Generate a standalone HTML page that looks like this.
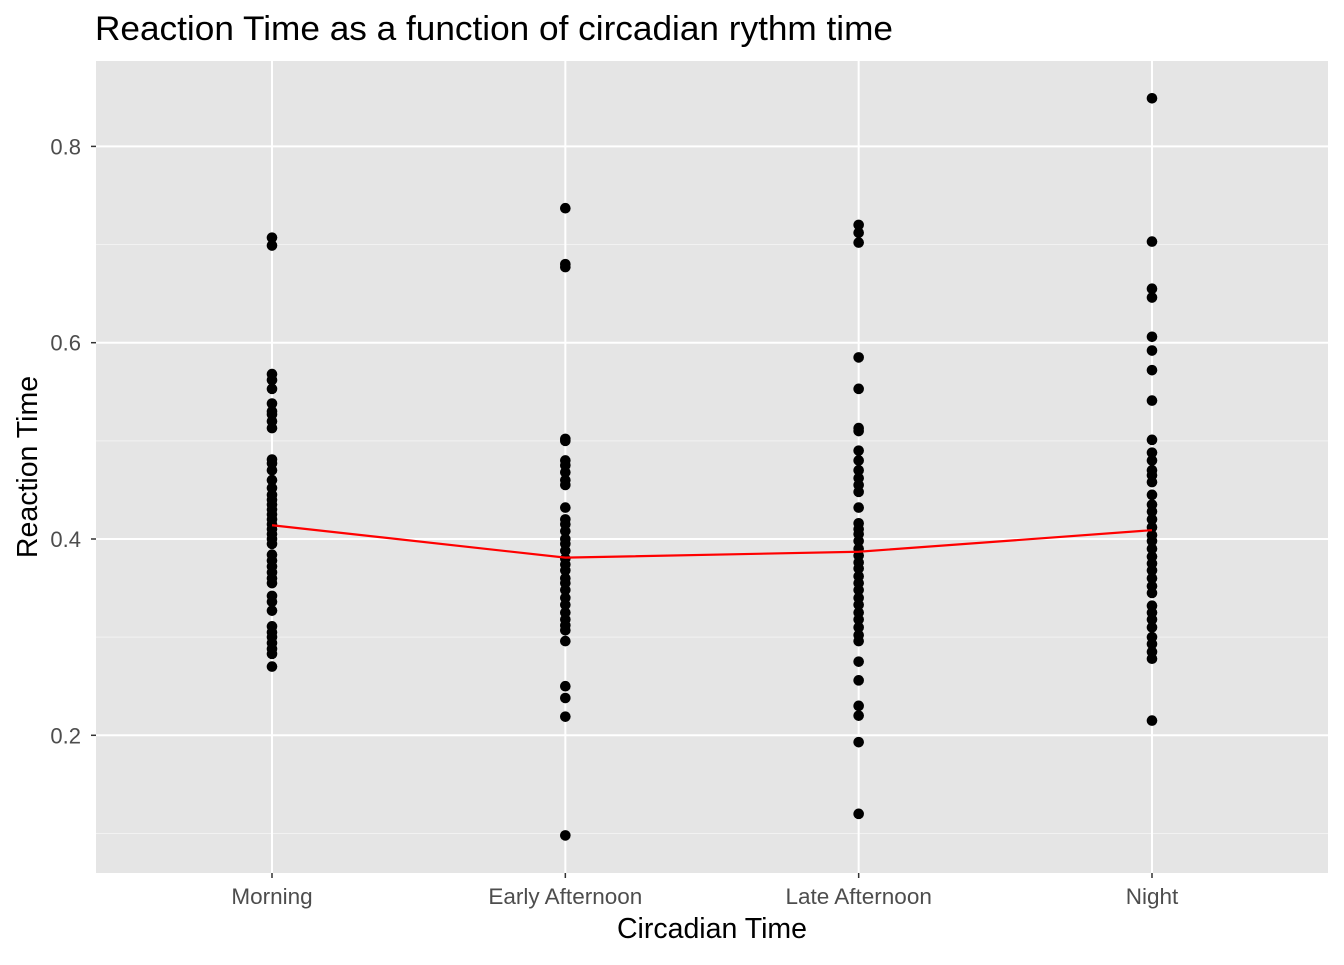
<!DOCTYPE html>
<html><head><meta charset="utf-8"><style>
body{margin:0;background:#fff;font-family:"Liberation Sans",Arial,sans-serif}
</style></head><body>
<svg id="chart" width="1344" height="960" xmlns="http://www.w3.org/2000/svg"></svg>
<script>
const categories=["Morning","Early Afternoon","Late Afternoon","Night"];
const morningValues=[0.707,0.699,0.568,0.562,0.553,0.538,0.530,0.527,0.520,0.513,0.481,0.477,0.470,0.460,0.452,0.445,0.440,0.435,0.430,0.425,0.420,0.415,0.410,0.405,0.400,0.395,0.384,0.378,0.372,0.366,0.360,0.355,0.342,0.336,0.327,0.311,0.305,0.300,0.294,0.288,0.283,0.270];
const earlyValues=[0.737,0.680,0.677,0.502,0.500,0.480,0.475,0.468,0.460,0.455,0.432,0.420,0.415,0.408,0.400,0.395,0.388,0.380,0.374,0.368,0.360,0.355,0.348,0.340,0.333,0.325,0.318,0.312,0.307,0.296,0.250,0.238,0.219,0.098];
const lateValues=[0.720,0.712,0.702,0.585,0.553,0.513,0.510,0.490,0.480,0.470,0.462,0.455,0.448,0.432,0.416,0.410,0.405,0.398,0.390,0.383,0.376,0.370,0.362,0.355,0.348,0.340,0.333,0.325,0.318,0.310,0.302,0.296,0.275,0.256,0.230,0.220,0.193,0.120];
const nightValues=[0.849,0.703,0.655,0.646,0.606,0.592,0.572,0.541,0.501,0.488,0.480,0.470,0.465,0.458,0.445,0.435,0.428,0.420,0.412,0.404,0.398,0.390,0.382,0.375,0.368,0.360,0.352,0.345,0.332,0.325,0.318,0.310,0.300,0.293,0.285,0.278,0.215];
const meanValues=[0.414,0.381,0.387,0.409];
const yTicks=[0.2,0.4,0.6,0.8];
const yMinor=[0.1,0.3,0.5,0.7];

const svg=document.getElementById('chart');
const NS="http://www.w3.org/2000/svg";
const P={l:96,r:1328,t:61,b:873};
const yMin=0.0597,yMax=0.887;
const y=v=>P.b-(v-yMin)/(yMax-yMin)*(P.b-P.t);
const x=i=>P.l+(i+0.6)/(categories.length+0.2)*(P.r-P.l);
function mk(tag,attrs,txt){const e=document.createElementNS(NS,tag);for(const k in attrs)e.setAttribute(k,attrs[k]);if(txt!=null)e.textContent=txt;svg.appendChild(e);return e;}

let e=mk('rect',{x:P.l,y:P.t,width:P.r-P.l,height:P.b-P.t,fill:'#e5e5e5'});


yMinor.forEach(v=>{const g=mk('line',{x1:P.l,x2:P.r,y1:y(v),y2:y(v),stroke:'#f2f2f2','stroke-width':1});

});
yTicks.forEach(v=>{const g=mk('line',{x1:P.l,x2:P.r,y1:y(v),y2:y(v),stroke:'#fff','stroke-width':2});


const t=mk('line',{x1:P.l-5,x2:P.l,y1:y(v),y2:y(v),stroke:'#333','stroke-width':1.5});


const l=mk('text',{x:P.l-15,y:y(v)+8,'text-anchor':'end','font-size':22,fill:'#4d4d4d'},v.toFixed(1));

});
categories.forEach((c,i)=>{const g=mk('line',{x1:x(i),x2:x(i),y1:P.t,y2:P.b,stroke:'#fff','stroke-width':2});


const t=mk('line',{x1:x(i),x2:x(i),y1:P.b,y2:P.b+5,stroke:'#333','stroke-width':1.5});


const l=mk('text',{x:x(i),y:P.b+31,'text-anchor':'middle','font-size':22.5,fill:'#4d4d4d'},c);

});
const series=[morningValues,earlyValues,lateValues,nightValues];
series.forEach((arr,i)=>arr.forEach(v=>{const p=mk('circle',{cx:x(i),cy:y(v),r:5.3,fill:'#000'});

}));
const ln=mk('polyline',{points:meanValues.map((v,i)=>x(i)+','+y(v)).join(' '),fill:'none',stroke:'#ff0000','stroke-width':2.2});


let t=mk('text',{x:95,y:40,'font-size':34,fill:'#000',textLength:798,lengthAdjust:'spacingAndGlyphs'},'Reaction Time as a function of circadian rythm time');


t=mk('text',{x:(P.l+P.r)/2,y:938,'text-anchor':'middle','font-size':28.5,fill:'#000'},'Circadian Time');


t=mk('text',{x:0,y:0,'text-anchor':'middle','font-size':28.5,fill:'#000',transform:'translate(37,'+((P.t+P.b)/2)+') rotate(-90)'},'Reaction Time');


</script>
</body></html>
